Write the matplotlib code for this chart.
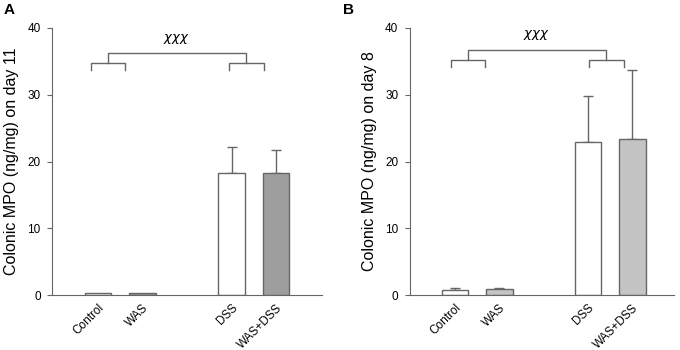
import matplotlib
matplotlib.use("Agg")
import matplotlib.pyplot as plt

plt.rcParams['font.family'] = ['Liberation Sans', 'DejaVu Sans']

groups = ['Control', 'WAS', 'DSS', 'WAS+DSS']
slots = [0, 1, 3, 4]

# panel A, day 11
mpo_a = [0.35, 0.25, 18.35, 18.35]
err_a = [0.0, 0.0, 3.9, 3.35]
colors_a = ['white', '#9e9e9e', 'white', '#9e9e9e']

# panel B, day 8
mpo_b = [0.8, 0.85, 22.85, 23.3]
err_b = [0.2, 0.15, 6.95, 10.35]
colors_b = ['white', '#c4c4c4', 'white', '#c4c4c4']

line_col = '#666666'


def draw_bracket(ax, x0, x1, y, leg):
    ax.plot([x0, x0, x1, x1], [y - leg, y, y, y - leg], color=line_col, lw=1.0, clip_on=False)


def panel(ax, vals, errs, cols, ylabel, xlim, br):
    ax.bar(slots, vals, width=0.6, color=cols, edgecolor=line_col, linewidth=1.0, zorder=2)
    for x, v, e in zip(slots, vals, errs):
        if e > 0:
            ax.errorbar(x, v, yerr=[[0], [e]], fmt='none', ecolor=line_col,
                        elinewidth=1.0, capsize=3.3, capthick=1.0, zorder=1)
    ax.set_xlim(*xlim)
    ax.set_ylim(0, 40)
    ax.set_yticks([0, 10, 20, 30, 40])
    ax.set_xticks(slots)
    ax.set_xticklabels(groups, rotation=45, ha='right', rotation_mode='anchor', fontsize=8.5)
    ax.tick_params(axis='y', labelsize=8.5, length=3.5, color=line_col, pad=5)
    ax.tick_params(axis='x', length=0, pad=5)
    ax.spines['top'].set_visible(False)
    ax.spines['right'].set_visible(False)
    ax.spines['left'].set_color(line_col)
    ax.spines['bottom'].set_color(line_col)
    ax.set_ylabel(ylabel, fontsize=11.5, labelpad=6)

    (l0, l1, r0, r1, low, top, tx, ty) = br
    draw_bracket(ax, l0, l1, low, 1.0)
    draw_bracket(ax, r0, r1, low, 1.0)
    lc = (l0 + l1) / 2
    rc = (r0 + r1) / 2
    ax.plot([lc, lc, rc, rc], [low, top, top, low], color=line_col, lw=1.0, clip_on=False)
    ax.text(tx, ty, r'$\chi\chi\chi$', ha='center', va='center', fontsize=9.5)


fig = plt.figure(figsize=(6.8, 3.5), dpi=100)
ax_a = fig.add_axes([0.0772, 0.157, 0.3963, 0.763])
ax_b = fig.add_axes([0.603, 0.157, 0.388, 0.763])

panel(ax_a, mpo_a, err_a, colors_a, 'Colonic MPO (ng/mg) on day 11', (-1.02, 5.03),
      (-0.16, 0.61, 2.94, 3.73, 34.7, 36.3, 1.75, 38.3))
panel(ax_b, mpo_b, err_b, colors_b, 'Colonic MPO (ng/mg) on day 8', (-1.02, 4.94),
      (-0.1, 0.68, 3.02, 3.81, 35.15, 36.7, 1.84, 39.0))

fig.text(0.005, 0.971, 'A', fontsize=11, fontweight='bold', va='center')
fig.text(0.505, 0.971, 'B', fontsize=11, fontweight='bold', va='center')

fig.savefig('out.png', dpi=100)
